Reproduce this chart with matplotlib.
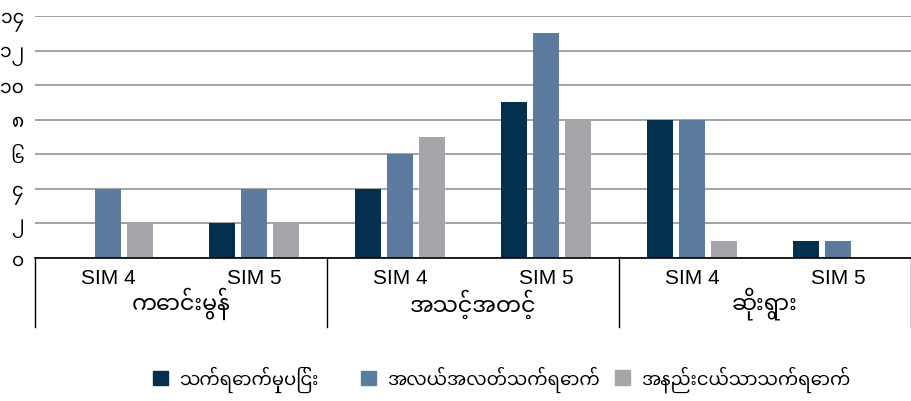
import matplotlib
matplotlib.use('Agg')
import matplotlib.pyplot as plt
import matplotlib.patches as mpatches
import numpy as np

plt.rcParams['font.family'] = ['Liberation Sans', 'Noto Sans Myanmar', 'Padauk',
                               'Myanmar Text', 'Noto Sans', 'DejaVu Sans']

# data
groups = ['ကောင်းမွန်', 'အသင့်အတင့်', 'ဆိုးရွား']
sims = ['SIM 4', 'SIM 5']
series = ['သက်ရောက်မှုပြင်း', 'အလယ်အလတ်သက်ရောက်', 'အနည်းငယ်သာသက်ရောက်']
strong = [0, 2, 4, 9, 8, 1]
medium = [4, 4, 6, 13, 8, 1]
slight = [2, 2, 7, 8, 1, 0]
yticks = [0, 2, 4, 6, 8, 10, 12, 14]
ytick_labels = ['၀', '၂', '၄', '၆', '၈', '၁၀', '၁၂', '၁၄']

colors = ['#03304f', '#5b7c9e', '#a5a6aa']

fig = plt.figure(figsize=(9.11, 4.02), dpi=100)
ax = fig.add_axes([35 / 911, 1 - 259 / 402, 1 - 35 / 911, (259 - 17) / 402])

x = np.arange(len(groups) * len(sims))
w = 0.18
step = 0.22
for i, (vals, c) in enumerate(zip([strong, medium, slight], colors)):
    ax.bar(x + (i - 1) * step, vals, width=w, color=c, label=series[i], zorder=3)

ax.set_xlim(-0.5, len(x) - 0.5)
ax.set_ylim(0, 14)
ax.set_yticks(yticks)
ax.set_yticklabels(ytick_labels, fontsize=13.5)
ax.yaxis.grid(True, color='#a3a3a3', linewidth=1.4, zorder=0)
ax.set_axisbelow(True)
ax.tick_params(axis='y', length=0, pad=8)
ax.set_xticks(x)
ax.set_xticklabels(sims * len(groups), fontsize=15)
ax.tick_params(axis='x', length=0, pad=7)

for side in ['left', 'right', 'top']:
    ax.spines[side].set_visible(False)
ax.spines['bottom'].set_color('black')
ax.spines['bottom'].set_linewidth(1.2)
ax.spines['bottom'].set_zorder(4)

# group separators and labels below axis
trans = ax.get_xaxis_transform()
for b in np.arange(-0.5, len(x), 2):
    ax.plot([b, b], [0, -69 / 242], transform=trans, color='black', lw=1, clip_on=False)
for g, name in enumerate(groups):
    ax.text(2 * g + 0.5, -45 / 242, name, transform=trans, ha='center', va='center',
            fontsize=16)

# legend entries placed like the original (fixed slots)
legend_x = [153 / 911, 361 / 911, 615 / 911]
for c, s, lx in zip(colors, series, legend_x):
    fig.legend(handles=[mpatches.Patch(color=c, label=s)], loc='center left',
               bbox_to_anchor=(lx, 22 / 402), frameon=False, fontsize=13,
               handlelength=0.85, handleheight=0.85, handletextpad=0.6,
               borderpad=0, borderaxespad=0)

fig.savefig('out.png', dpi=100)
